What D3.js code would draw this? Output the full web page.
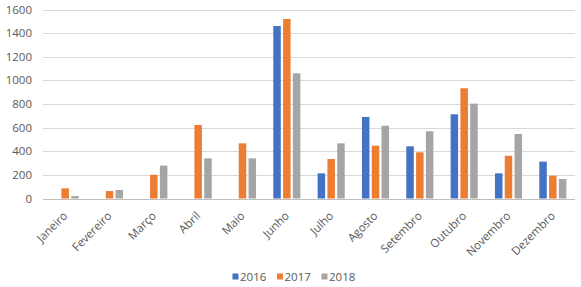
<!DOCTYPE html>
<html>
<head>
<meta charset="utf-8">
<script src="https://cdn.jsdelivr.net/npm/d3@7"></script>
<style>
  body { margin: 0; background: #fff; }
  svg text { font-family: "Open Sans", "Liberation Sans", sans-serif; fill: #595959; }
</style>
</head>
<body>
<div id="chart"></div>
<script>
var months = ["Janeiro", "Fevereiro", "Março", "Abril", "Maio", "Junho", "Julho", "Agosto", "Setembro", "Outubro", "Novembro", "Dezembro"]
var years = ["2016", "2017", "2018"]
var values2016 = [0, 0, 0, 0, 0, 1460, 213, 690, 442, 713, 213, 312]
var values2017 = [86, 63, 201, 622, 467, 1520, 334, 447, 391, 933, 362, 193]
var values2018 = [20, 72, 278, 340, 340, 1060, 467, 616, 569, 803, 546, 165]
var yTicks = [0, 200, 400, 600, 800, 1000, 1200, 1400, 1600]
var colors = ["#4472C4", "#ED7D31", "#A5A5A5"]

var series = [values2016, values2017, values2018]

var width = 581, height = 287
var margin = { left: 43, right: 6, top: 9.5, bottom: 88.5 }

var svg = d3.select('#chart')
    .append('svg')
    .attr('width', width)
    .attr('height', height)

var scaleX = d3.scaleBand()
    .domain(months)
    .range([margin.left, width - margin.right])

var scaleY = d3.scaleLinear()
    .domain([0, 1600])
    .range([height - margin.bottom, margin.top])

// gridlines
svg.append('g')
    .selectAll('line')
    .data(yTicks)
    .enter()
    .append('line')
    .attr('x1', margin.left)
    .attr('x2', width - margin.right)
    .attr('y1', function(d) { return Math.round(scaleY(d)) + 0.5 })
    .attr('y2', function(d) { return Math.round(scaleY(d)) + 0.5 })
    .style('stroke', function(d) { return d === 0 ? '#BFBFBF' : '#D9D9D9' })
    .style('stroke-width', 1)

// y labels
svg.append('g')
    .selectAll('text')
    .data(yTicks)
    .enter()
    .append('text')
    .attr('x', 32)
    .attr('y', function(d) { return scaleY(d) + 4 })
    .attr('text-anchor', 'end')
    .style('font-size', '11.5px')
    .text(function(d) { return d })

// bars
var barW = 7.5
var step = 9.8
var groups = svg.append('g')
    .selectAll('g')
    .data(series)
    .enter()
    .append('g')
    .style('fill', function(d, i) { return colors[i] })

groups.selectAll('rect')
    .data(function(d, i) { return d.map(function(v, j) { return { value: v, month: months[j], s: i } }) })
    .enter()
    .append('rect')
    .attr('x', function(d) { return scaleX(d.month) + scaleX.bandwidth() / 2 + (d.s - 1) * step - barW / 2 })
    .attr('width', barW)
    .attr('y', function(d) { return scaleY(d.value) })
    .attr('height', function(d) { return scaleY(0) - scaleY(d.value) })

// x labels
svg.append('g')
    .selectAll('text')
    .data(months)
    .enter()
    .append('text')
    .attr('transform', function(d) {
        return 'translate(' + (scaleX(d) + scaleX.bandwidth() / 2 + 3) + ',' + (scaleY(0) + 18) + ') rotate(-45)'
    })
    .attr('text-anchor', 'end')
    .style('font-size', '11.5px')
    .text(function(d) { return d })

// legend
var legendX = [232.5, 277, 321.5]
var legend = svg.append('g')
    .selectAll('g')
    .data(years)
    .enter()
    .append('g')
    .attr('transform', function(d, i) { return 'translate(' + legendX[i] + ',273)' })

legend.append('rect')
    .attr('width', 6)
    .attr('height', 6)
    .attr('y', 0.5)
    .style('fill', function(d, i) { return colors[i] })

legend.append('text')
    .attr('x', 7.5)
    .attr('y', 7.5)
    .style('font-size', '11.5px')
    .text(function(d) { return d })
</script>
</body>
</html>
